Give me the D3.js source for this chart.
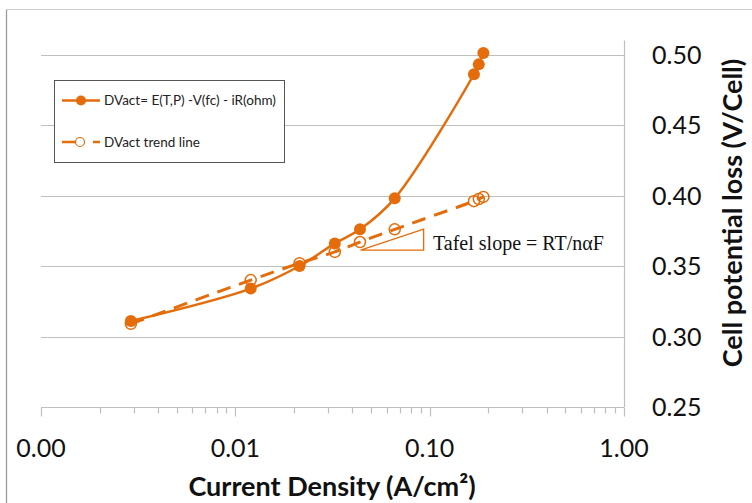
<!DOCTYPE html>
<html>
<head>
<meta charset="utf-8">
<script src="https://cdn.jsdelivr.net/npm/d3@7"></script>
<style>
  body { margin: 0; background: #fff; }
  svg { display: block; font-family: Lato, sans-serif; }
</style>
</head>
<body>
<svg width="752" height="503"></svg>
<script>
// Data
const currentDensity = [0.0029, 0.012, 0.0214, 0.0325, 0.0438, 0.0661, 0.169, 0.179, 0.189];
const dvAct = [0.311, 0.334, 0.350, 0.366, 0.376, 0.398, 0.486, 0.493, 0.501];
const dvTrend = [0.309, 0.340, 0.352, 0.360, 0.367, 0.376, 0.396, 0.3975, 0.399];

const xTicks = [0.001, 0.01, 0.1, 1];
const xTickLabels = ["0.00", "0.01", "0.10", "1.00"];
const yTicks = [0.25, 0.30, 0.35, 0.40, 0.45, 0.50];
const yTickLabels = ["0.25", "0.30", "0.35", "0.40", "0.45", "0.50"];

const seriesNames = ["DVact= E(T,P) -V(fc) - iR(ohm)", "DVact trend line"];

// Tafel triangle, in data units
const tafelX = [0.0441, 0.0931];
const tafelY = [0.3613, 0.3762];

const orange = "#E46C0A";
const grid = "#BFBFBF";

const svg = d3.select("svg");

// chart area border (cropped on right/bottom)
svg.append("line").attr("x1", 6.5).attr("x2", 6.5).attr("y1", 9.5).attr("y2", 503)
	.attr("stroke", "#9a9a9a").attr("stroke-width", 1.3);
svg.append("line").attr("x1", 6.5).attr("x2", 752).attr("y1", 9.5).attr("y2", 9.5)
	.attr("stroke", "#cfcfcf").attr("stroke-width", 1);

const x = d3.scaleLog().domain([0.001, 1]).range([41, 624]);
const y = d3.scaleLinear().domain([0.25, 0.51]).range([407, 40.4]);

// gridlines
svg.append("g")
	.selectAll("line")
	.data(yTicks.slice(1))
	.join("line")
	.attr("x1", x(0.001))
	.attr("x2", x(1))
	.attr("y1", (d) => Math.round(y(d)) + 0.5)
	.attr("y2", (d) => Math.round(y(d)) + 0.5)
	.attr("stroke", grid)
	.attr("stroke-width", 1.2);

// x axis (log, with minor ticks)
const minor = [];
for (let e = -3; e < 0; e++) {
	for (let m = 1; m < 10; m++) minor.push(m * Math.pow(10, e));
}
minor.push(1);
const xAxis = svg.append("g").attr("transform", `translate(0,${Math.round(y(0.25)) + 0.5})`);
xAxis.append("line").attr("x1", x(0.001)).attr("x2", x(1)).attr("stroke", grid).attr("stroke-width", 1.2);
xAxis.selectAll(".tk")
	.data(minor)
	.join("line")
	.attr("class", "tk")
	.attr("x1", (d) => Math.round(x(d)) + 0.5)
	.attr("x2", (d) => Math.round(x(d)) + 0.5)
	.attr("y1", 0)
	.attr("y2", (d) => (xTicks.some((t) => Math.abs(t - d) < 1e-9) ? 9 : 6))
	.attr("stroke", grid)
	.attr("stroke-width", 1.2);
xAxis.selectAll(".lbl")
	.data(xTicks)
	.join("text")
	.attr("class", "lbl")
	.attr("x", (d) => x(d))
	.attr("y", 49)
	.attr("text-anchor", "middle")
	.attr("font-size", 25)
	.attr("fill", "#111")
	.text((d, i) => xTickLabels[i]);

// y axis on right
svg.append("line")
	.attr("x1", Math.round(x(1)) + 0.5).attr("x2", Math.round(x(1)) + 0.5)
	.attr("y1", y(0.51)).attr("y2", y(0.25))
	.attr("stroke", grid).attr("stroke-width", 1.2);
svg.append("g")
	.selectAll("text")
	.data(yTicks)
	.join("text")
	.attr("x", 652)
	.attr("y", (d) => y(d) + 9)
	.attr("font-size", 25)
	.attr("fill", "#111")
	.text((d, i) => yTickLabels[i]);

// axis titles
svg.append("text")
	.attr("x", 332)
	.attr("y", 496)
	.attr("text-anchor", "middle")
	.attr("font-size", 27)
	.attr("font-weight", "bold")
	.attr("fill", "#111")
	.text("Current Density (A/cm²)");
svg.append("text")
	.attr("transform", "translate(742,213) rotate(-90)")
	.attr("text-anchor", "middle")
	.attr("font-size", 27)
	.attr("font-weight", "bold")
	.attr("fill", "#111")
	.text("Cell potential loss (V/Cell)");

// Tafel triangle + label
svg.append("path")
	.attr("d", `M${x(tafelX[0])},${y(tafelY[0])}L${x(tafelX[1])},${y(tafelY[1])}L${x(tafelX[1])},${y(tafelY[0])}Z`)
	.attr("fill", "none")
	.attr("stroke", orange)
	.attr("stroke-width", 1.3);
svg.append("text")
	.attr("x", 433)
	.attr("y", 250)
	.attr("font-family", "'Liberation Serif', 'Times New Roman', serif")
	.attr("font-size", 20)
	.attr("fill", "#111")
	.text("Tafel slope = RT/nαF");

const pts1 = currentDensity.map((c, i) => [c, dvAct[i]]);
const pts2 = currentDensity.map((c, i) => [c, dvTrend[i]]);

const line = d3.line()
	.x((d) => x(d[0]))
	.y((d) => y(d[1]))
	.curve(d3.curveCatmullRom.alpha(0.5));

// trend line (dashed, hollow markers)
svg.append("path")
	.datum(pts2)
	.attr("d", line)
	.attr("fill", "none")
	.attr("stroke", orange)
	.attr("stroke-width", 3)
	.attr("stroke-dasharray", "14,9");
svg.append("g")
	.selectAll("circle")
	.data(pts2)
	.join("circle")
	.attr("cx", (d) => x(d[0]))
	.attr("cy", (d) => y(d[1]))
	.attr("r", 5.5)
	.attr("fill", "none")
	.attr("stroke", orange)
	.attr("stroke-width", 1.5);

// measured series (smooth, filled markers)
svg.append("path")
	.datum(pts1)
	.attr("d", line)
	.attr("fill", "none")
	.attr("stroke", orange)
	.attr("stroke-width", 2.5);
svg.append("g")
	.selectAll("circle")
	.data(pts1)
	.join("circle")
	.attr("cx", (d) => x(d[0]))
	.attr("cy", (d) => y(d[1]))
	.attr("r", 6)
	.attr("fill", orange);

// legend
const legend = svg.append("g");
legend.append("rect")
	.attr("x", 54.5).attr("y", 80.5).attr("width", 230).attr("height", 82)
	.attr("fill", "#fff").attr("stroke", "#555").attr("stroke-width", 1);
legend.append("line").attr("x1", 62).attr("x2", 100).attr("y1", 100.5).attr("y2", 100.5)
	.attr("stroke", orange).attr("stroke-width", 2.5);
legend.append("circle").attr("cx", 81).attr("cy", 100.5).attr("r", 5).attr("fill", orange);
legend.append("line").attr("x1", 62).attr("x2", 100).attr("y1", 142).attr("y2", 142)
	.attr("stroke", orange).attr("stroke-width", 2.5).attr("stroke-dasharray", "14,17");
legend.append("circle").attr("cx", 80).attr("cy", 142).attr("r", 4.5)
	.attr("fill", "#fff").attr("stroke", orange).attr("stroke-width", 1.2);
legend.selectAll("text")
	.data(seriesNames)
	.join("text")
	.attr("x", 104)
	.attr("y", (d, i) => (i === 0 ? 105 : 146.5))
	.attr("font-size", 13.5)
	.attr("fill", "#222")
	.text((d) => d);
</script>
</body>
</html>
